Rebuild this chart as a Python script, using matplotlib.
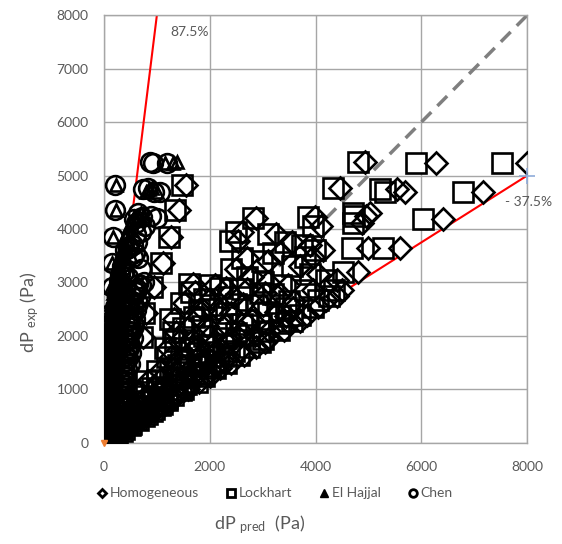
import matplotlib
matplotlib.use("Agg")
import matplotlib.pyplot as plt
from matplotlib.lines import Line2D

plt.rcParams['font.family'] = ['Lato', 'DejaVu Sans']
plt.rcParams['mathtext.default'] = 'regular'

# dP_exp (Pa) for each test point, with predicted dP (Pa) for each model
dp_exp = [5250, 5240, 5230, 4820, 4760, 4740, 4700, 4690, 4350, 4300,
          4250, 4200, 4190, 4220, 4120, 4050, 3850, 3780, 3760, 3700,
          3640, 3640, 3600, 3550, 3360, 3400, 3300, 3200, 3150, 3100,
          3050, 2920, 2950, 2900, 2850, 2800, 2750, 2700, 2650, 2600,
          2550, 2430, 2500, 2450, 2400, 2350, 2300, 2250, 2200, 2150,
          2100, 2050, 1980, 2000, 1950, 1900, 1850, 1800, 1750, 1700,
          1650, 1600, 1550, 1500, 1450, 1400, 1350, 1300, 1250, 1200,
          1150, 1100, 1050, 1000, 950, 900, 850, 800, 750, 700,
          650, 600, 550, 500, 450, 400, 350, 300, 250, 200,
          150, 100, 50, 20,
          2980, 2960, 2880, 2860, 2820, 2780, 2720, 2680, 2620, 2580,
          2520, 2480, 2420, 2380, 2320, 2280, 2230, 2180, 2120, 2080,
          2020, 1970, 1920, 1880, 1830, 1780, 1720, 1680, 1630, 1580,
          1530, 1480, 1430, 1380, 1330, 1280, 1230, 1180, 1130, 1080,
          1030, 980, 930, 880, 830, 780, 730, 680, 630, 580,
          530, 480, 430, 380, 330, 280, 230, 180, 130, 80,
          3950, 3900, 3450, 3250, 3000, 3480]

dp_lockhart = [4800, 5900, 7520, 1480, 4330, 5220, 5310, 6790, 1350, 4700,
               4720, 2820, 6030, 3860, 4700, 3950, 1230, 2380, 3420, 3750,
               4690, 5280, 3980, 3200, 1080, 2980, 3550, 4520, 3900, 2700,
               4200, 900, 3350, 2200, 3800, 2950, 4250, 1900, 3500, 2500,
               3950, 760, 2050, 3100, 3700, 1700, 2700, 3350, 2200, 1500,
               3000, 2500, 720, 1900, 3000, 1350, 2250, 2750, 1650, 2000,
               2550, 1200, 1800, 2300, 1400, 2100, 1000, 1700, 1900, 1300,
               800, 1550, 1100, 1500, 650, 1300, 950, 1200, 550, 1050,
               800, 900, 450, 750, 600, 350, 520, 250, 380, 150,
               220, 80, 60, 20,
               1600, 2000, 2600, 4350, 1650, 3200, 2350, 4050, 1450, 2900,
               3450, 1800, 2300, 3300, 1250, 3550, 2600, 1850, 3300, 1300,
               2750, 2300, 1600, 2950, 1950, 1150, 2450, 1800, 2250, 1450,
               2150, 1750, 2000, 1250, 1500, 1850, 1550, 1000, 1750, 1350,
               900, 1450, 1100, 750, 1200, 900, 1100, 650, 950, 700,
               820, 500, 650, 450, 500, 300, 350, 250, 150, 100,
               2500, 3100, 2600, 2400, 3000, 3800]

dp_homogeneous = [4930, 6280, 7990, 1550, 4460, 5540, 5690, 7170, 1410, 5030,
                  4950, 2880, 6410, 3990, 4870, 4100, 1270, 2530, 3550, 3900,
                  4990, 5600, 4150, 3330, 1120, 3100, 3700, 4800, 4050, 2800,
                  4400, 950, 3480, 2300, 3950, 3050, 4400, 2000, 3600, 2620,
                  4050, 790, 2150, 3250, 3830, 1780, 2800, 3500, 2300, 1580,
                  3120, 2620, 740, 2000, 3100, 1420, 2350, 2880, 1730, 2100,
                  2640, 1260, 1880, 2400, 1470, 2200, 1050, 1780, 2000, 1360,
                  840, 1620, 1160, 1580, 690, 1360, 1000, 1280, 580, 1100,
                  840, 950, 480, 790, 640, 380, 550, 270, 400, 160,
                  230, 90, 70, 20,
                  1680, 2100, 2700, 4500, 1730, 3320, 2450, 4200, 1520, 3000,
                  3580, 1880, 2400, 3450, 1320, 3700, 2700, 1950, 3400, 1370,
                  2850, 2400, 1680, 3050, 2050, 1210, 2550, 1880, 2350, 1520,
                  2250, 1830, 2100, 1310, 1570, 1950, 1620, 1050, 1800, 1420,
                  950, 1520, 1160, 790, 1260, 950, 1150, 690, 990, 740,
                  840, 530, 680, 480, 520, 320, 360, 270, 160, 110,
                  2600, 3250, 2700, 2500, 3100, 3950]

dp_elhajjal = [1380, 1300, 1150, 230, 900, 850, 1000, 800, 220, 700,
               760, 640, 600, 560, 520, 480, 180, 430, 460, 400,
               380, 420, 350, 330, 160, 300, 280, 260, 250, 230,
               220, 140, 200, 210, 190, 180, 170, 160, 150, 140,
               130, 90, 150, 140, 120, 130, 110, 100, 110, 100,
               90, 100, 70, 90, 80, 90, 80, 70, 80, 70,
               60, 70, 60, 55, 60, 50, 55, 50, 45, 50,
               45, 40, 45, 40, 35, 35, 30, 30, 28, 25,
               25, 22, 20, 20, 18, 15, 15, 12, 10, 10,
               8, 5, 5, 2,
               350, 380, 330, 300, 280, 300, 260, 240, 250, 230,
               220, 210, 200, 190, 200, 180, 170, 180, 160, 150,
               150, 140, 140, 130, 130, 120, 120, 110, 110, 100,
               100, 95, 90, 90, 85, 80, 80, 75, 70, 70,
               65, 60, 60, 55, 50, 50, 45, 40, 40, 35,
               30, 30, 25, 25, 20, 18, 15, 12, 10, 6,
               450, 420, 320, 280, 240, 350]

dp_chen = [870, 1200, 920, 210, 830, 740, 1060, 950, 200, 650,
           880, 1000, 560, 720, 600, 780, 170, 500, 620, 540,
           470, 450, 400, 580, 160, 420, 350, 380, 300, 460,
           280, 150, 330, 400, 260, 350, 240, 380, 300, 330,
           220, 140, 340, 280, 250, 310, 260, 230, 290, 270,
           220, 250, 120, 260, 200, 240, 210, 190, 230, 200,
           180, 210, 190, 170, 200, 160, 180, 150, 140, 160,
           150, 130, 140, 120, 130, 110, 120, 100, 110, 90,
           100, 80, 90, 70, 80, 60, 60, 50, 40, 40,
           30, 20, 10, 5,
           650, 700, 620, 560, 600, 520, 680, 500, 640, 560,
           480, 600, 540, 520, 580, 460, 500, 560, 440, 520,
           480, 540, 460, 420, 500, 480, 440, 520, 400, 460,
           420, 500, 380, 440, 400, 360, 420, 380, 340, 400,
           360, 320, 380, 340, 300, 360, 280, 320, 260, 300,
           240, 280, 220, 240, 200, 200, 160, 140, 100, 60,
           700, 600, 650, 700, 760, 550]

series_names = ['Homogeneous', 'Lockhart', 'El Hajjal', 'Chen']
upper_label = '87.5%'
lower_label = '- 37.5%'
upper_line_x = [0, 1000]
upper_line_y = [0, 8000]
lower_line_x = [0, 8000]
lower_line_y = [0, 5000]
diag = [0, 8000]
x_ticks = [0, 2000, 4000, 6000, 8000]
y_ticks = [0, 1000, 2000, 3000, 4000, 5000, 6000, 7000, 8000]

fig = plt.figure(figsize=(5.62, 5.44), dpi=100)
ax = fig.add_axes([0.185, 0.186, 0.753, 0.786])
grid_c = '#a6a6a6'
txt_c = '#595959'

ax.set_xlim(0, 8000)
ax.set_ylim(0, 8000)
ax.set_xticks(x_ticks)
ax.set_yticks(y_ticks)
ax.grid(True, color=grid_c, linewidth=1.0, zorder=0)
ax.set_axisbelow(True)
for s in ax.spines.values():
    s.set_color(grid_c)
    s.set_linewidth(1.0)
ax.tick_params(length=0, labelsize=10, colors=txt_c)
ax.tick_params(axis='y', pad=11)
ax.tick_params(axis='x', pad=13)

ax.plot(diag, diag, color='#7f7f7f', lw=2.5, dashes=(4, 2.5), zorder=1)
ax.plot(upper_line_x, upper_line_y, color='#ff0000', lw=1.5, zorder=1)
ax.plot(lower_line_x, lower_line_y, color='#ff0000', lw=1.5, zorder=1)

series = [
    (dp_homogeneous, 'D', 11.5),
    (dp_lockhart, 's', 14.5),
    (dp_elhajjal, '^', 9),
    (dp_chen, 'o', 13.5),
]
# white-filled backs first so lines are hidden under markers
for xs, m, ms in series:
    ax.plot(xs, dp_exp, ls='none', marker=m, ms=ms, mfc='white', mec='none', zorder=2)
for xs, m, ms in series:
    ax.plot(xs, dp_exp, ls='none', marker=m, ms=ms, mfc='none', mec='black', mew=1.9, zorder=3)

ax.plot([8000], [5000], marker='+', ms=12, mew=1.2, color='#8fabd9', zorder=4, clip_on=False)
ax.plot([0], [0], marker='v', ms=4, color='#ed7d31', zorder=4, clip_on=False)

ax.text(1250, 7680, upper_label, fontsize=10, color=txt_c, va='center', ha='left')
ax.text(7580, 4500, lower_label, fontsize=10, color=txt_c, va='center', ha='left', clip_on=False)

fig.text(0.053, 0.425, 'dP $_{exp}$ (Pa)', rotation=90, fontsize=13, color=txt_c,
         ha='center', va='center')
fig.text(0.462, 0.035, 'dP $_{pred}$  (Pa)', fontsize=13, color=txt_c,
         ha='center', va='center')

handles = [
    Line2D([], [], ls='none', marker='D', ms=4.5, mfc='none', mec='black', mew=2),
    Line2D([], [], ls='none', marker='s', ms=5.5, mfc='none', mec='black', mew=2),
    Line2D([], [], ls='none', marker='^', ms=6, mfc='black', mec='black', mew=1),
    Line2D([], [], ls='none', marker='o', ms=5.5, mfc='none', mec='black', mew=2),
]
leg = fig.legend(handles, series_names, loc='center', bbox_to_anchor=(0.49, 0.093),
                 ncol=4, frameon=False, fontsize=10, handlelength=0.6,
                 handletextpad=0.25, columnspacing=2.0, labelcolor=txt_c)

fig.savefig('out.png', dpi=100)
